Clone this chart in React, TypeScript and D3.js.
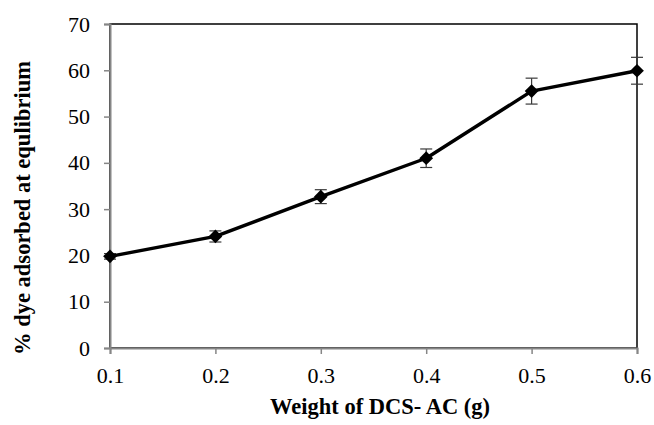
import React, { useRef, useEffect } from "react";
import * as d3 from "d3";

const weights = [0.1, 0.2, 0.3, 0.4, 0.5, 0.6];
const dyeAdsorbed = [19.8, 24.1, 32.7, 41.0, 55.5, 59.9];
const errors = [0.6, 1.2, 1.5, 2.0, 2.8, 2.9];
const yTicks = [0, 10, 20, 30, 40, 50, 60, 70];

const App = () => {
  const svgRef = useRef<SVGSVGElement>(null);

  useEffect(() => {
    const svg = d3.select(svgRef.current);
    svg.selectAll("*").remove();
    const width = 654;
    const height = 425;
    const margin = { top: 24, right: 17, bottom: 77, left: 110 };
    const font = "Liberation Serif, Times New Roman, serif";

    const x = d3
      .scaleLinear()
      .domain([0.1, 0.6])
      .range([margin.left, width - margin.right]);
    const y = d3
      .scaleLinear()
      .domain([0, 70])
      .range([height - margin.bottom, margin.top]);

    // plot area border (top/right black)
    svg
      .append("rect")
      .attr("x", x(0.1))
      .attr("y", y(70))
      .attr("width", x(0.6) - x(0.1))
      .attr("height", y(0) - y(70))
      .attr("fill", "none")
      .attr("stroke", "#000")
      .attr("stroke-width", 1.5);

    // y axis
    const yAxis = svg
      .append("g")
      .attr("transform", `translate(${x(0.1)},0)`)
      .call(d3.axisLeft(y).tickValues(yTicks).tickSize(6).tickPadding(14));
    yAxis.attr("font-family", null).attr("font-size", null);
    yAxis.select(".domain").attr("stroke", "#868686").attr("stroke-width", 2);
    yAxis.selectAll(".tick line").attr("stroke", "#868686").attr("stroke-width", 1.5);
    yAxis
      .selectAll(".tick text")
      .style("font-family", font)
      .style("font-size", "22px")
      .attr("fill", "#000");

    // x axis
    const xAxis = svg
      .append("g")
      .attr("transform", `translate(0,${y(0)})`)
      .call(
        d3
          .axisBottom(x)
          .tickValues(weights)
          .tickFormat(d3.format(".1f"))
          .tickSize(6)
          .tickPadding(13)
      );
    xAxis.attr("font-family", null).attr("font-size", null);
    xAxis.select(".domain").attr("stroke", "#868686").attr("stroke-width", 2);
    xAxis.selectAll(".tick line").attr("stroke", "#868686").attr("stroke-width", 1.5);
    xAxis
      .selectAll(".tick text")
      .style("font-family", font)
      .style("font-size", "22px")
      .attr("fill", "#000");

    const data = weights.map((w, i) => ({ w, v: dyeAdsorbed[i], e: errors[i] }));

    // error bars
    const eb = svg.append("g").attr("stroke", "#3a3a3a").attr("stroke-width", 1.2);
    data.forEach((d) => {
      eb.append("line")
        .attr("x1", x(d.w))
        .attr("x2", x(d.w))
        .attr("y1", y(d.v - d.e))
        .attr("y2", y(d.v + d.e));
      [d.v - d.e, d.v + d.e].forEach((val) => {
        eb.append("line")
          .attr("x1", x(d.w) - 6)
          .attr("x2", x(d.w) + 6)
          .attr("y1", y(val))
          .attr("y2", y(val));
      });
    });

    // line
    const line = d3
      .line<{ w: number; v: number }>()
      .x((d) => x(d.w))
      .y((d) => y(d.v));
    svg
      .append("path")
      .datum(data)
      .attr("d", line)
      .attr("fill", "none")
      .attr("stroke", "#000")
      .attr("stroke-width", 3.4)
      .attr("stroke-linejoin", "round");

    // diamond markers
    const diamond = d3.symbol().type(d3.symbolDiamond2).size(120);
    svg
      .selectAll(".marker")
      .data(data)
      .join("path")
      .attr("class", "marker")
      .attr("transform", (d) => `translate(${x(d.w)},${y(d.v)})`)
      .attr("d", diamond)
      .attr("fill", "#000");

    // titles
    svg
      .append("text")
      .attr("x", 380)
      .attr("y", 414)
      .attr("text-anchor", "middle")
      .style("font-family", font)
      .style("font-size", "22.5px")
      .style("font-weight", "bold")
      .text("Weight of DCS- AC (g)");

    svg
      .append("text")
      .attr("transform", `translate(30,208) rotate(-90)`)
      .attr("text-anchor", "middle")
      .style("font-family", font)
      .style("font-size", "22.5px")
      .style("font-weight", "bold")
      .text("% dye adsorbed at equlibrium");
  }, []);

  return (
    <svg
      ref={svgRef}
      width={654}
      height={425}
      style={{ position: "absolute", left: 0, top: 0, background: "#fff" }}
    />
  );
};

export default App;
